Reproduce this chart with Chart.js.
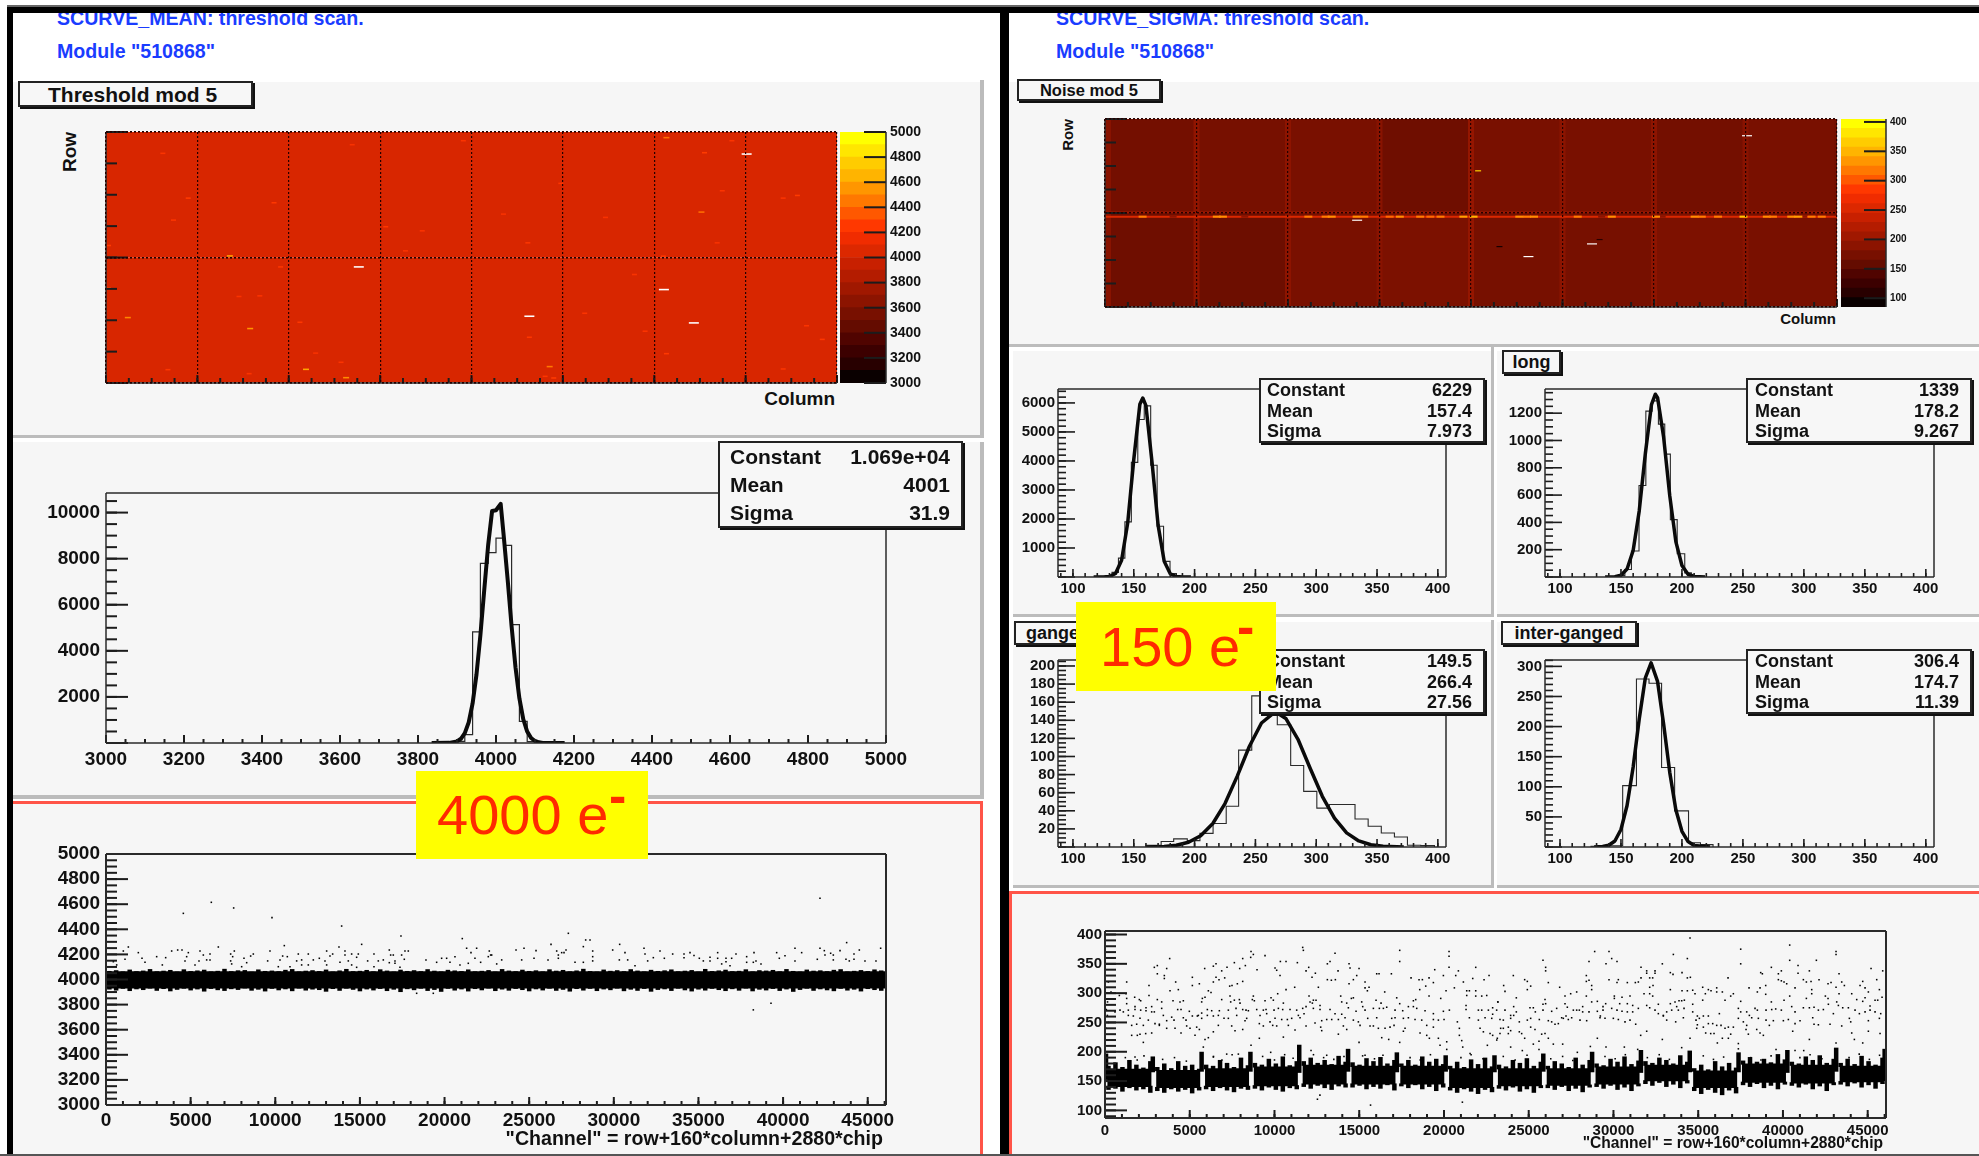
<!DOCTYPE html>
<html><head><meta charset="utf-8">
<style>
html,body{margin:0;padding:0;background:#fff;width:1979px;height:1156px;overflow:hidden;font-family:'Liberation Sans',Arial,sans-serif}
#stage{position:relative;width:1979px;height:1156px;overflow:hidden}
#stage>*{position:absolute}
.t{white-space:nowrap;line-height:1;font-weight:bold;color:#111}
</style>
<script src="https://cdn.jsdelivr.net/npm/chart.js@4/dist/chart.umd.min.js"></script>
</head><body><div id="stage"></div>
<script>
/* ---------- colour scale ---------- */
const paletteColors=['#0a0000','#280000','#3c0000','#500400','#640c00','#781000','#8c1400','#a01800','#b41c00','#c82000','#dc2800','#f02c00','#ff3800','#ff5800','#ff7800','#ff9600','#ffb400','#ffcc00','#ffe600','#ffff00'];
const thresholdRange=[3000,5000], noiseRange=[85,405];
const thresholdPaletteTicks=[3000,200,5000], noisePaletteTicks=[100,50,400];

/* ---------- threshold map ---------- */
const thresholdChipTop=[4030,4028,4031,4029,4030,4028,4030,4029];
const thresholdChipBottom=[4029,4031,4030,4028,4030,4029,4028,4030];
const thrOverCols=[126.2,49.8,109.9,83.4,115.8];
const thrOverRows=[291.9,148,119.1,85.1,76.6];
const thrHotCols=[24.4,4.3,28.4,39.4,47.3,87.4,110.4,117.3];
const thrHotRows=[162,83.4,69.4,17.4,6.8,20.9,312.8,217.9];
const thrHotVals=[4600,4500,4550,4600,4520,4450,4420,4420];
const thrWarmCols=[34.4,33.1,109.8,83.1,78.3,98.4,133.4,136.2,89.6,117.9,123.3,70.4,48.5,11.2,16.2,13.3,55.1,62.3,59.0,0.5,0.5,30.3,26.2,38.2,94.3,106.2,83.4,141.1,110.4,41.3,46.3,12.2,28.2,86.5,88.2,133.4,138.0,104.1,120.4,121.4];
const thrWarmRows=[148,229.8,161.7,178.7,215.3,211.1,235.7,239.1,254.5,293.6,308.9,308.9,303.8,292.8,235.7,207.7,199.2,194,168.5,175.3,121.3,111.1,110.3,77.4,88.9,66,58.3,55.6,37.4,38.1,26.4,17,11.9,8.5,6.4,17.9,73,138.3,178.7,245.1];
const thrWarmVals=[4230,4240,4250,4230,4200,4200,4220,4260,4230,4260,4220,4220,4200,4220,4260,4230,4240,4220,4210,4260,4260,4220,4210,4240,4220,4220,4240,4240,4250,4200,4220,4240,4220,4230,4260,4230,4220,4210,4200,4220];

/* ---------- noise map ---------- */
const noiseChipTop=[170,172,174,166,174,174,170,174];
const noiseChipBottom=[166,164,174,176,172,172,177,174];
const noiseStripeCols=[0.6,18,36,54,72,90,108,126,144];
const noiseStripeVals=[186,192,190,186,196,188,190,186,170];
const gangedRowVals=[252];
const gangedHotCols=[7.4,22,23.2,40,43.4,44.6,49.5,51,56,58,62,64,66,70.5,72.5,81.5,83,84.4,93,99.7,108.4,116,117.4,120.6,125.6,130.2,131.4,135,136.4,139,141];
const gangedHotVals=[320,330,330,320,320,330,330,320,310,330,320,310,320,340,350,330,320,330,320,330,330,330,320,320,360,330,320,330,340,320,320];
const gangedGapCols=[13.4,27.5,97.7,109.6,137.4];
const noiseHotCols=[73.4,77.6,97.3];
const noiseHotRows=[231.8,102.8,114.8];
const noiseHotVals=[370,100,110];
const noiseOverCols=[49.6,95.8,83.3,126.3];
const noiseOverRows=[147.7,107.4,85.8,291.5];

/* ---------- threshold histogram ---------- */
const thrHistEdges=[3860,3880,3900,3920,3940,3960,3980,4000,4020,4040,4060,4080,4100,4120];
const thrHistVals=[5,20,70,360,4820,7800,8260,8890,8576,5137,935,60,10,0];
const thrFitX=[3835,3880,3900,3910,3920,3930,3940,3950,3960,3970,3980,3990,4000,4012,4020,4030,4040,4050,4060,4070,4080,4090,4100,4110,4120,4176];
const thrFitY=[0,6,71,183,426,898,1718,2978,4680,6667,8607,10073,10100,10380,8953,7071,5064,3285,1933,1030,498,218,86,31,3,0];

/* ---------- noise histograms ---------- */
const allHistEdges=[126.8,132.1,137.4,142.7,148,153.3,158.6,163.9,169.2,174.5,179.8,185.1,190.4];
const allHistVals=[40,160,650,1900,3950,5430,5900,3850,1750,540,120,15,0];
const allFitX=[117,125,130,135,140,145,150,155,157.4,160,165,170,175,180,185,190,197];
const allFitY=[0,2,17,120,576,1859,4049,5953,6170,5905,3956,1788,545,112,16,2,0];

const longHistEdges=[147.6,153.2,158.6,164.8,170.4,175.6,180.7,185.9,190.5,196.1,202.3,207.7,213];
const longHistVals=[10,55,190,670,1215,1290,1120,900,420,170,30,6,0];
const longFitX=[137,145,150,155,160,165,170,175,178.2,180,185,190,195,200,205,210,219];
const longFitY=[0,2,13,59,194,486,905,1262,1339,1314,1023,596,259,84,20,4,0];

const gangedHistEdges=[159.6,172.5,182.8,194,204.4,215.2,226,236.2,247,257.8,268,279,289.7,300.5,310.8,321.6,331.9,342.7,353.5,364.3,375,385.9,397.2];
const gangedHistVals=[2,6,9,7,15,26,45,107,167,192,135,90,61.5,43,47,47,31,23,15.5,11,2,1.5,0];
const gangedFitX=[160,175,185,195,205,215,225,235,245,255,266.4,275,285,295,305,315,325,335,345,355,372];
const gangedFitY=[0,0.6,1.9,5.2,12.5,26,48,78,111,137,149.5,142,119,87,56,32,15.6,6.7,2.5,0.9,0];

const interHistEdges=[125,140.6,151.4,162.7,173,183.3,194,205.4,215.2,225.5];
const interHistVals=[1,2,102,279,272,132,60,7,4,0];
const interFitX=[128,135,140,145,150,155,160,165,170,174.7,180,185,190,195,200,205,210,223];
const interFitY=[0,0.7,3,10,29,69,133,213,281,306,275,204,124,62,26,9,2.5,0];

/* ---------- threshold vs channel ---------- */
const thrBandLow=[3928], thrBandHigh=[4066];
const thrTopEdge=[4068,4074,4064,4079,4066,4071,4083,4065,4070,4076,4063,4081,4067,4072,4078,4064,4069,4085,4066,4073,4075,4062,4080,4068,4071,4066,4077,4083,4064,4070,4074,4067,4079,4063,4072,4084,4066,4069,4076,4065,4081,4071,4063,4078,4068,4074,4066,4082,4070,4064,4077,4072,4067,4080,4065,4069,4075,4063,4083,4071,4066,4078,4068,4073,4064,4081,4070,4076,4065,4072,4085,4067,4063,4079,4069,4074,4066,4082,4071,4064,4077,4068,4073,4080,4065,4070,4075,4063,4084,4067,4072,4078,4066,4069,4081,4064,4074,4071,4076,4065,4083,4068,4063,4079,4070,4073,4066,4077,4082,4064,4069,4075,4067,4080,4072];
const thrLowEdge=[3920,3912,3926,3908,3922,3916,3928,3910,3924,3906,3918,3927,3913,3921,3904,3925,3915,3909,3923,3917,3929,3911,3919,3905,3926,3914,3922,3907,3928,3912,3920,3916,3903,3924,3910,3927,3918,3906,3921,3913,3925,3908,3919,3900,3923,3915,3927,3909,3917,3902,3926,3912,3921,3905,3924,3914,3928,3908,3920,3911,3925,3916,3906,3922,3913,3927,3910,3918,3904,3924,3912,3926,3908,3921,3915,3928,3907,3919,3910,3925,3903,3917,3922,3909,3927,3914,3905,3920,3912,3926,3916,3908,3923,3911,3928,3906,3919,3913,3925,3909,3921,3902,3917,3927,3910,3922,3914,3907,3926,3912,3919,3905,3924,3916,3910];
const thrOutliers=[[4569,4527],[6222,4615],[7542,4570],[9806,4493],[13921,4426],[17426,4347],[21049,4326],[15103,4280],[10534,4270],[6636,4259],[13764,4259],[1320,4259],[3879,4227],[4234,4235],[4490,4235],[5553,4227],[7581,4227],[9688,4227],[13035,4227],[14118,4227],[16737,4235],[17662,4227],[17859,4227],[21305,4249],[21562,4214],[21896,4249],[22644,4227],[1024,4227],[1910,4214],[4864,4214],[2993,4182],[3525,4174],[2127,4169],[4765,4182],[5750,4195],[6144,4203],[7364,4203],[7483,4182],[8703,4203],[8546,4187],[10436,4187],[10712,4182],[11361,4203],[11952,4203],[13390,4203],[13232,4187],[14906,4203],[14512,4203],[14118,4195],[15831,4203],[16973,4195],[16816,4195],[17465,4195],[19828,4169],[20124,4169],[20616,4182],[22585,4182],[22722,4195],[1123,4161],[2304,4137],[4667,4148],[5494,4148],[5947,4156],[6144,4156],[7364,4148],[8152,4169],[8310,4134],[9550,4148],[10279,4156],[11263,4148],[11558,4156],[12248,4156],[12602,4169],[12937,4148],[13823,4137],[14315,4148],[14807,4177],[15457,4148],[16087,4148],[16383,4156],[17072,4148],[17623,4161],[18903,4156],[19533,4137],[20321,4137],[20911,4116],[21403,4129],[21797,4169],[22132,4137],[434,4142],[631,4116],[3328,4116],[5258,4116],[7424,4124],[8014,4102],[10180,4102],[10869,4102],[11558,4116],[11952,4116],[13035,4116],[14512,4116],[14807,4097],[15831,4102],[16737,4134],[17072,4129],[17367,4097],[18352,3890],[19336,3890],
[42180,4647],[27314,4368],[28338,4315],[28594,4315],[26290,4280],[30346,4280],[43755,4294],[24695,4249],[28200,4262],[31784,4249],[40703,4249],[42180,4249],[45764,4249],[24223,4235],[25404,4230],[27176,4235],[28752,4227],[29933,4235],[30660,4214],[32729,4227],[33477,4203],[34501,4214],[34147,4203],[26625,4227],[26723,4195],[26723,4169],[26920,4214],[27058,4214],[42436,4230],[42810,4209],[43363,4230],[44504,4235],[39620,4214],[38282,4214],[37218,4203],[41097,4214],[22785,4195],[31843,4203],[34737,4192],[34147,4174],[32335,4174],[32985,4169],[25286,4169],[24557,4156],[23376,4156],[28752,4182],[28752,4148],[30327,4156],[30819,4156],[32000,4148],[35052,4169],[35683,4177],[36135,4214],[36135,4169],[36627,4169],[36962,4169],[37848,4182],[39778,4169],[40113,4190],[42022,4161],[42475,4195],[42968,4195],[42968,4156],[43715,4161],[43912,4148],[44189,4203],[44189,4161],[44838,4148],[45488,4148],[40703,4148],[35289,4148],[35683,4148],[36627,4142],[37848,4137],[38242,4137],[38399,4148],[38695,4124],[23081,4124],[26113,4156],[27708,4137],[28200,4137],[31252,4110],[36372,4124],[36864,4110],[39286,3810],[38242,3758]];

/* ---------- noise vs channel ---------- */
const noiseBandHigh=[171,169,172,175,178,176,176,172,172,172,175,178,168,180,178,176];
const noiseBandLow=[140,138,140,141,144,144,144,138,141,142,144,149.5,138,147,146,148];
const noiseSpikeChannels=[60,2820,5700,8580,11460,14340,17220,20100,22980,25860,28740,31620,34500,37380,40260,43140,46000];
const noiseSpikeHigh=[197,192,200,200,212,205,199,194,194,197,200,203,202,199,203,207,205];
const noiseSpikeLow=[152,165,166,166,164,166,165,166,165,166,165,164,165,165,164,166,150];
const noiseTopEdge=[176,182,174,186,178,173,184,174,180,172,184,176,178,171,178,176,186,181,174,190,177,181,178,188,180,192,177,184,184,190,181,186,179,193,183,182,178,189,184,191,180,186,180,186,178,192,183,188,179,176,183,174,187,179,190,175,178,175,186,181,189,176,183,176,184,180,174,190,178,186,180,177,188,183,192,179,185,184,181,190,186,180,194,183,172,178,170,184,175,181,173,185,191,183,188,182,196,187,183,180,192,186,194,181,188,181,188,179,193,184,178,190];
const noiseLowEdge=[135,137,132,138,134,136,130,133,130,136,132,135,129,134,136,133,138,134,131,137,135,137,134,139,135,132,138,136,140,137,142,138,135,141,139,139,142,136,140,137,143,134,141,138,143,136,140,133,139,134,130,136,132,128,135,131,137,134,139,132,136,130,138,138,135,140,133,137,131,139,140,137,142,135,139,133,141,145,142,147,140,144,138,146,133,128,135,130,126,134,129,143,140,145,138,142,136,144,142,139,144,136,141,133,143,144,141,146,139,143,137,145];
const noiseOutliers=[[11664,378],[11704,373],[8616,371],[8753,366],[8596,361],[9442,364],[13572,368],[17388,373],[17388,354],[20299,371],[20299,363],[20299,344],[21873,344],[20850,338],[19454,340],[3816,359],[3088,347],[2911,344],[3639,342],[3088,333],[3501,330],[3501,325],[5881,342],[6393,346],[6550,350],[7199,344],[7632,352],[8124,359],[8281,347],[7947,342],[8970,340],[10032,343],[10130,339],[10347,354],[10681,354],[11350,352],[12019,344],[11862,338],[10327,330],[12412,334],[12215,327],[13277,354],[13120,350],[13750,338],[14399,350],[14458,343],[14989,342],[14851,330],[14654,323],[14399,316],[16031,333],[16169,333],[16897,333],[18057,326],[18529,323],[18726,323],[19119,326],[19965,330],[20693,330],[21145,319],[21696,325],[22365,323],[22660,330],
[1279,319],[2596,313],[5154,327],[5154,313],[5567,316],[6885,338],[6550,327],[6727,323],[6393,319],[7062,326],[8124,320],[7809,316],[7494,313],[7357,312],[4170,319],[3836,304],[4327,306],[6098,304],[6255,301],[11192,310],[10681,306],[10189,299],[12589,310],[13120,323],[13356,322],[13592,323],[15343,319],[15579,310],[15343,309],[15481,304],[16503,302],[18569,306],[18923,312],[19375,318],[20122,304],[20614,309],[21342,304],[21499,304],[21873,304],[21342,296],[21873,295],[22227,295],[22522,296],
[2596,296],[1751,293],[2026,289],[2105,287],[3088,289],[3344,285],[4013,287],[4426,285],[4622,287],[5901,293],[5704,285],[5744,291],[6885,289],[7376,295],[7632,288],[7927,289],[7966,283],[7416,285],[8753,295],[8694,289],[8812,287],[9442,287],[9796,292],[9933,288],[10524,283],[12038,295],[12294,288],[12097,285],[12451,288],[12235,283],[12687,279],[13907,295],[13966,285],[14261,283],[14536,291],[14654,292],[15146,285],[15992,288],[16287,283],[17211,292],[17388,282],[18333,289],[18195,287],[19119,295],[19808,291],[21302,279],[23172,285],[1279,291],[1279,282],[354,302],[846,296],[1239,299],[197,319],
[1377,271],[1770,277],[1770,272],[2105,271],[2419,275],[2419,270],[2754,277],[2754,268],[2911,268],[3344,274],[4288,272],[4485,272],[4976,269],[5508,262],[5704,266],[6039,272],[6295,270],[6747,270],[7278,271],[7730,274],[8124,272],[8320,271],[8458,270],[8950,272],[9343,271],[9501,272],[9973,271],[10229,274],[10484,272],[10917,272],[11310,271],[11664,274],[11862,277],[12294,274],[12687,272],[13277,272],[13572,265],[13966,264],[14359,275],[14812,269],[15205,277],[15343,271],[15835,274],[16188,274],[16425,274],[16621,276],[17113,271],[17565,270],[17900,277],[18195,277],[18392,274],[18883,270],[19375,265],[19965,269],[20319,271],[21302,272],[22030,271],[22227,271],[22620,271],
[590,268],[885,271],[1082,268],[1377,262],[1672,261],[2065,257],[2557,254],[2950,248],[3206,247],[3442,262],[3639,253],[3934,259],[4072,254],[4622,258],[4780,254],[5154,261],[5449,261],[5704,257],[6039,262],[6393,261],[6688,262],[7022,257],[7278,257],[7770,262],[8360,257],[8261,253],[9147,262],[9540,265],[9737,251],[10032,257],[10425,255],[10759,255],[11015,257],[11409,262],[11507,258],[11743,265],[12392,249],[12786,253],[13081,255],[13376,255],[13769,255],[14163,258],[14654,254],[14949,251],[15500,257],[16031,258],[16916,257],[17113,258],[17605,257],[17900,258],[18293,255],[18687,254],[19375,255],[19670,254],[20004,255],[20791,251],[21499,258],[22030,254],[22424,258],[22818,257],
[1574,245],[1869,247],[2262,245],[3206,245],[3639,240],[4131,240],[4819,244],[5016,240],[5409,242],[5567,238],[6688,245],[7475,244],[7671,236],[8124,238],[9107,248],[9343,244],[9894,245],[10130,244],[10818,245],[11212,237],[11862,244],[12726,242],[12786,236],[14064,244],[14261,238],[15048,245],[15638,244],[15835,244],[16129,240],[16523,240],[16818,242],[17054,245],[17703,240],[17605,235],[18982,245],[19375,242],[20909,240],[22129,240],[22325,234],[22719,231],[1574,228],[1908,228],[2065,230],[2400,231],[2754,232],[2262,216],[4485,232],[5311,228],[5901,221],[6098,224],[6393,234],[10524,225],[9107,223],[13769,230],[16327,224],[16739,221],[14989,216],[17388,216],[18588,232],[18982,228],[19139,223],[19670,223],[19768,211],[20909,228],[21047,219],[21106,208],[22561,211],[23113,220],[20162,217],[5802,208],[8616,211],[12156,202],[9776,199],[13081,194],[15343,194],[20162,204],[6393,191],[7180,196],[7868,196],[1770,191],[21539,197],
[34517,394],[40398,382],[37507,375],[43132,371],[43132,366],[28891,371],[29737,371],[33534,366],[29895,359],[34360,359],[25842,356],[30209,354],[28557,354],[40398,356],[41972,356],[37507,350],[32884,350],[29560,350],[25998,344],[25998,338],[31625,344],[40890,347],[45198,342],[31960,338],[31960,334],[32452,338],[32452,334],[33356,335],[33514,332],[34045,335],[39316,344],[41559,338],[45886,338],[38687,335],[38785,333],[39906,338],[39730,333],[40890,334],[24092,330],[28400,330],[34537,327],[34360,326],[36760,326],[32314,326],[32137,326],[31625,326],[31468,319],[31291,318],[30819,318],[29737,323],[30288,323],[30209,318],[28557,322],[28400,320],[24761,323],[24918,320],[26157,318],[39730,323],[39906,321],[40064,319],[40221,316],[41205,323],[41382,319],[41657,320],[42129,323],[43309,333],[42837,318],[42660,316],[43467,319],[43624,313],[44706,320],[44549,313],[45532,323],
[23521,313],[23600,303],[25115,312],[24918,306],[26826,310],[28714,313],[28714,306],[32334,313],[32137,310],[33356,306],[34045,304],[34360,304],[34675,305],[34812,299],[35264,310],[35422,299],[35599,306],[35756,304],[36091,309],[36091,302],[36425,302],[37999,309],[38490,302],[38982,313],[38648,309],[38982,298],[40713,309],[41697,306],[41697,299],[43132,310],[43309,299],[44057,299],[44844,309],[45040,302],[45690,306],[45847,293],[27141,295],[27475,299],[27829,302],[28400,295],[30052,295],[30052,291],[30504,293],[30976,295],[31803,299],[32137,299],[32314,295],[35264,288],[36582,288],[36917,295],[37074,299],[37507,286],[39316,285],[40064,288],[40398,295],[41382,291],[42503,295],[42660,291],[43172,285],[44352,289],[44844,292],[44706,286],[45434,288],[45591,288],[45139,278],[24269,292],[23187,285],[24112,277],[25961,289],[25842,281],[25998,282],[27141,282],[27278,276],[28714,285],[29049,286],[29383,277],[29540,282],[30367,282],[30819,282],[31134,279],[31960,279],[32648,281],[33356,282],[33632,285],[33868,287],[34025,287],[34183,288],[34675,281],[33730,277],
[22872,275],[23108,271],[23600,271],[22872,264],[23934,262],[24112,262],[24269,268],[25075,275],[25272,275],[25390,268],[25842,271],[26354,269],[26649,274],[26944,258],[27200,261],[27633,271],[27829,271],[27987,271],[28183,277],[28183,268],[28557,268],[29049,269],[29383,271],[29226,261],[29895,274],[30209,271],[30504,269],[30819,268],[31134,268],[31468,274],[32137,275],[32452,271],[32648,265],[32943,262],[33140,268],[33435,271],[33828,271],[34163,274],[34675,268],[34950,261],[35304,261],[35599,261],[36248,265],[37369,274],[37507,268],[37861,268],[38018,262],[38352,274],[38490,271],[39002,271],[39336,272],[39572,273],[39906,271],[40516,277],[40713,268],[41205,275],[41559,275],[41834,276],[42090,271],[42385,272],[42680,281],[42975,265],[43270,279],[43526,275],[43860,275],[44254,271],[44510,265],[44844,268],[45139,271],[45434,268],[45768,265],
[23305,255],[23502,254],[23934,257],[24446,251],[24918,254],[25115,257],[25626,255],[26157,253],[26354,251],[26551,247],[26747,248],[27042,257],[27337,255],[27534,258],[28026,254],[28419,253],[29206,258],[29501,257],[29993,257],[30288,255],[30681,251],[30976,254],[31311,247],[32943,261],[33140,254],[33671,251],[34124,258],[34871,254],[35068,257],[34950,246],[35304,242],[35599,248],[35855,248],[36091,245],[36346,245],[36582,240],[36779,242],[37074,242],[37369,257],[37664,251],[37861,245],[38156,258],[38549,257],[39002,254],[39198,245],[39434,253],[40025,253],[40319,255],[40713,248],[41008,253],[41756,258],[41834,247],[42090,246],[42778,247],[43467,244],[43919,257],[43998,251],[45040,253],[45690,257],
[23344,240],[23502,240],[23797,242],[23934,236],[23797,231],[23305,231],[22872,228],[23148,223],[24446,234],[24584,231],[24761,223],[25115,242],[25370,238],[25764,230],[25961,231],[25606,218],[25272,213],[26157,223],[26452,213],[27003,213],[29049,223],[31960,235],[31606,228],[32884,221],[34911,240],[35441,232],[35737,231],[35933,231],[36130,215],[36425,223],[36779,223],[36917,230],[37822,238],[37959,230],[38451,238],[38648,232],[38844,228],[40575,235],[41559,221],[44057,232],[45040,235],[44214,221],[45729,231],[44706,215],[23934,208],[25606,204],[29560,208],[30642,208],[34517,223],[43132,215],[37369,214],[37369,205],[39592,204],[41225,202],[40713,202],[24623,202],[27869,199],[28636,209],[31429,204],[34025,207],
[1200,190],[1900,186],[2300,193],[3400,187],[4100,190],[4800,184],[6400,192],[6900,186],[7500,195],[8100,188],[9300,192],[10000,186],[10600,195],[11100,189],[12300,195],[12900,190],[13500,187],[14100,192],[15200,193],[15900,188],[16400,194],[18000,190],[18600,186],[19200,195],[21000,190],[21600,195],[22300,188],[23500,192],[24200,186],[24900,194],[26300,188],[27000,192],[27600,185],[29500,192],[30100,188],[30700,195],[32000,190],[32700,195],[33300,187],[35300,193],[35900,187],[36500,191],[38100,190],[38700,186],[39300,193],[41000,190],[41600,195],[42300,188],[43900,190],[44500,196],[45100,187],[45700,194],
[100,300],[150,285],[80,272],[140,262],[200,250],[60,240],[12534,119],[12681,126],[21086,114],[15667,109]];

/* ---------- page furniture text ---------- */
const statLabels=['Constant','Mean','Sigma'];
const thrStats=['1.069e+04','4001','31.9'];
const allStats=['6229','157.4','7.973'];
const longStats=['1339','178.2','9.267'];
const gangedStats=['149.5','266.4','27.56'];
const interStats=['306.4','174.7','11.39'];

/* ---------- helpers ---------- */
const stage=document.getElementById('stage');
const FONT="'Liberation Sans',Arial,sans-serif";
function box(x,y,w,h,style,z){const d=document.createElement('div');d.style.cssText=`left:${x}px;top:${y}px;width:${w}px;height:${h}px;${style||''}z-index:${z||0};`;stage.appendChild(d);return d;}
function text(s,x,y,size,opt={}){const d=document.createElement('div');d.className='t';d.textContent=s;
  const tx=opt.align==='right'?'-100%':opt.align==='center'?'-50%':'0';
  d.style.cssText=`left:${x}px;top:${y}px;font-size:${size}px;transform:translate(${tx},-50%)${opt.rot?' rotate(-90deg)':''};z-index:${opt.z||4};color:${opt.color||'#111'};font-weight:${opt.weight||'bold'};`;
  stage.appendChild(d);return d;}
function button(x,y,w,h,s,size,z){box(x,y,w,h,'box-sizing:border-box;background:#f7f7f7;border:2px solid #222;box-shadow:2px 2px 0 #111;',z||3);
  text(s,x+w/2,y+h/2,size,{align:'center',z:(z||3)+1});}
function stats(x,y,w,h,labels,vals,rows,size,lx,rx){box(x,y,w,h,'box-sizing:border-box;background:#f7f7f7;border:2px solid #222;box-shadow:2px 2px 0 #111;',3);
  labels.forEach((l,i)=>{text(l,lx,rows[i],size);text(vals[i],rx,rows[i],size,{align:'right'});});}
function multiples(step,min,max){const a=[];for(let v=Math.ceil(min/step-1e-9)*step;v<=max+1e-9;v+=step)a.push(v);return a;}
function stepTicks(step){return s=>{s.ticks=multiples(step,s.min,s.max).map(v=>({value:v}));};}
function fitted(side,size){return s=>{if(side==='h')s.height=size;else s.width=size;s.paddingTop=0;s.paddingBottom=0;s.paddingLeft=0;s.paddingRight=0;};}
function decor(d){return {id:'decor',afterDatasetsDraw(chart){const {ctx,chartArea:a,scales:{x,y}}=chart;ctx.save();ctx.strokeStyle=d.color||'#1c1c1c';ctx.lineWidth=d.tickWidth||2;
  const seg=(x1,y1,x2,y2)=>{ctx.beginPath();ctx.moveTo(x1,y1);ctx.lineTo(x2,y2);ctx.stroke();};
  if(d.xMin)multiples(d.xMin,x.min,x.max).forEach(v=>{const p=x.getPixelForValue(v);seg(p,a.bottom,p,a.bottom-d.xMinLen);});
  if(d.xMaj)multiples(d.xMaj,x.min,x.max).forEach(v=>{const p=x.getPixelForValue(v);seg(p,a.bottom,p,a.bottom-d.xMajLen);});
  if(d.yMin)multiples(d.yMin,y.min,y.max).forEach(v=>{const p=y.getPixelForValue(v);seg(a.left,p,a.left+d.yMinLen,p);});
  if(d.yMaj)multiples(d.yMaj,y.min,y.max).forEach(v=>{const p=y.getPixelForValue(v);seg(a.left,p,a.left+d.yMajLen,p);});
  if(d.palMaj)multiples(d.palMaj,y.min,y.max).forEach(v=>{const p=y.getPixelForValue(v);seg(a.right,p,a.right-d.palLen,p);});
  ctx.lineWidth=d.frameWidth||1.5;ctx.strokeStyle='#2a2a2a';
  const s=d.sides||'lrtb';
  if(s.includes('l'))seg(a.left,a.top,a.left,a.bottom);
  if(s.includes('r'))seg(a.right,a.top,a.right,a.bottom);
  if(s.includes('t'))seg(a.left,a.top,a.right,a.top);
  if(s.includes('b'))seg(a.left,a.bottom,a.right,a.bottom);
  ctx.restore();}};}
function makeChart(p){const [l,t,r,b]=p.plot,[ml,mt,mr,mb]=p.margin;const c=document.createElement('canvas');const W=r-l+ml+mr,H=b-t+mt+mb;
  c.width=W;c.height=H;c.style.cssText=`left:${l-ml}px;top:${t-mt}px;width:${W}px;height:${H}px;z-index:1;`;stage.appendChild(c);
  const tick=(size,pad,cb)=>({font:{family:FONT,size,weight:'bold'},color:'#111',padding:pad,autoSkip:false,maxRotation:0,minRotation:0,includeBounds:false,callback:cb||(v=>String(v))});
  const sx=Object.assign({type:'linear',offset:false,grid:{display:false,drawTicks:false},border:{display:false},afterFit:fitted('h',mb)},p.x);
  const sy=Object.assign({type:'linear',grid:{display:false,drawTicks:false},border:{display:false},afterFit:fitted('w',p.y.position==='right'?mr:ml)},p.y);
  if(p.xTick){sx.ticks=tick(p.xTick.size,p.xTick.pad);sx.afterBuildTicks=stepTicks(p.xTick.step);}
  if(p.yTick){sy.ticks=tick(p.yTick.size,p.yTick.pad,v=>v===0?'':String(v));sy.afterBuildTicks=stepTicks(p.yTick.step);}
  return new Chart(c,{type:'bar',data:{datasets:p.datasets},plugins:[decor(p.decor)],options:{responsive:false,animation:false,devicePixelRatio:1,
    layout:{autoPadding:false,padding:p.y.position==='right'?{left:ml,top:mt,right:0,bottom:0}:{left:0,top:mt,right:mr,bottom:0}},
    plugins:{legend:{display:false},tooltip:{enabled:false}},scales:{x:sx,y:sy}}});}

function hexRgb(h){return [1,3,5].map(i=>parseInt(h.substr(i,2),16));}
function heatColor(v,range){const t=Math.max(0,Math.min(19,(v-range[0])/(range[1]-range[0])*20-0.5));const i=Math.floor(t),f=t-i;
  const a=hexRgb(paletteColors[i]),b=hexRgb(paletteColors[Math.min(19,i+1)]);return `rgb(${a.map((c,k)=>Math.round(c+(b[k]-c)*f)).join(',')})`;}
const xy=(xs,ys)=>xs.map((v,i)=>({x:v,y:ys[i]}));
const stepLine=(xs,ys,w)=>({type:'line',data:xy(xs,ys),stepped:true,borderColor:'#2a2a2a',borderWidth:w||1.2,pointRadius:0,tension:0,fill:false});
const fitLine=(xs,ys,w)=>({type:'line',data:xy(xs,ys),borderColor:'#0a0a0a',borderWidth:w||4,pointRadius:0,tension:0,fill:false,borderJoinStyle:'round'});
const bars=(pts,thick,color)=>({type:'bar',grouped:false,data:pts,barThickness:thick,backgroundColor:color,borderWidth:0,inflateAmount:0});
const pointsDs=(pairs,r)=>({type:'scatter',showLine:false,data:pairs.map(p=>({x:p[0],y:p[1]})),pointStyle:'rect',pointRadius:r,pointBackgroundColor:'#000',pointBorderWidth:0});

/* ---------- panels and frames ---------- */
const PANEL='background:#f6f6f6;', BEV='background:#bcbcbc;', RED='background:#ff5448;';
box(13,82,968,353,PANEL); box(13,435,968,3,BEV); box(980,80,4,358,BEV);
box(13,442,968,353,PANEL); box(13,795,968,4,BEV); box(980,442,4,357,BEV);
box(13,802,969,354,PANEL); box(13,801,969,3,RED); box(980,801,3,355,RED);
box(1009,82,970,262,PANEL); box(1009,344,970,3,BEV);
box(1013,351,478,263,PANEL); box(1013,614,478,3,BEV); box(1491,344,3,273,BEV);
box(1497,351,482,263,PANEL); box(1497,614,482,3,BEV);
box(1013,622,478,263,PANEL); box(1013,885,478,3,BEV); box(1491,620,3,268,BEV);
box(1497,622,482,263,PANEL); box(1497,885,482,3,BEV);
box(1009,892,970,264,PANEL); box(1012,891,967,3,RED); box(1009,891,3,265,RED);
box(7,7,1972,6,'background:#000;',6); box(7,5,1972,2,'background:#666;',6);
box(7,7,6,1149,'background:#000;',6);
box(1000,7,9,1149,'background:#000;',6);
box(0,1154,1979,2,'background:#555;',6);

/* ---------- titles ---------- */
text('SCURVE_MEAN: threshold scan.',57,19,19.6,{color:'#1a3cff',z:2});
text('Module "510868"',57,52,19.6,{color:'#1a3cff'});
text('SCURVE_SIGMA: threshold scan.',1056,19,19.6,{color:'#1a3cff',z:2});
text('Module "510868"',1056,52,19.6,{color:'#1a3cff'});
box(18,81,235,26,'box-sizing:border-box;background:#f7f7f7;border:2px solid #222;box-shadow:2px 2px 0 #111;',3);
text('Threshold mod 5',48,94,21);
button(1017,79,144,22,'Noise mod 5',16.5);
button(1502,350,59,24,'long',18);
button(1014,621,140,24,'',18);
text('ganged',1026,633,18);
button(1501,621,136,24,'inter-ganged',18);

/* ---------- threshold map ---------- */
const thrBase=[].concat(thresholdChipTop.map((v,i)=>({x:9+18*i,y:[160,320],v})),thresholdChipBottom.map((v,i)=>({x:9+18*i,y:[0,160],v})));
const spots=(cols,rows)=>cols.map((c,i)=>({x:c,y:[rows[i]-1,rows[i]+1]}));
const dottedGrid=(step,width)=>({afterBuildTicks:stepTicks(step),ticks:{display:false},grid:{display:true,offset:false,drawTicks:false,color:'#240000',lineWidth:width,z:1},border:{display:false,dash:[2,2]}});
makeChart({plot:[106,132,837,383],margin:[2,2,2,2],
  x:Object.assign({min:0,max:144},dottedGrid(18,1.2)),
  y:Object.assign({min:0,max:320},dottedGrid(160,1.6)),
  datasets:[
    bars(spots(thrOverCols,thrOverRows),10,'#ffffff'),
    bars(spots(thrHotCols,thrHotRows),6,thrHotVals.map(v=>heatColor(v,thresholdRange))),
    bars(spots(thrWarmCols,thrWarmRows),5,thrWarmVals.map(v=>heatColor(v,thresholdRange))),
    bars(thrBase,92,thrBase.map(c=>heatColor(c.v,thresholdRange)))],
  decor:{xMaj:18,xMajLen:8,xMin:4.5,xMinLen:5,yMaj:160,yMajLen:22,yMin:40,yMinLen:11,sides:'lb'}});
function palette(plotRect,range,step,size){
  const w=(range[1]-range[0])/20;
  const ds=paletteColors.map((c,i)=>({type:'bar',grouped:false,data:[{x:'p',y:[range[0]+i*w,range[0]+(i+1)*w]}],backgroundColor:c,barPercentage:1,categoryPercentage:1,borderWidth:0}));
  makeChart({plot:plotRect,margin:[2,8,40,8],x:{type:'category',labels:['p'],offset:true,ticks:{display:false}},
    y:{min:range[0],max:range[1],position:'right',afterBuildTicks:stepTicks(step),ticks:{font:{family:FONT,size,weight:'bold'},color:'#111',padding:4,autoSkip:false,callback:v=>String(v)}},
    datasets:ds,decor:{palMaj:step,palLen:22,sides:'r'}});
}
palette([840,132,886,383],thresholdRange,thresholdPaletteTicks[1],14);
text('Row',69,152,19,{rot:true,align:'center'});
text('Column',835,398,19,{align:'right'});

/* ---------- noise map ---------- */
const nBase=[].concat(noiseChipTop.map((v,i)=>({x:9+18*i,y:[160,320],v})),noiseChipBottom.map((v,i)=>({x:9+18*i,y:[0,160],v})));
const stripes=noiseStripeCols.map((c,i)=>({x:c,y:[0,320],v:noiseStripeVals[i]}));
const nFull=gangedRowVals.map(v=>({x:72,y:[152,155.5],v}));
const nUpper=[{x:72,y:[159.5,162.5],v:205}];
const nHot=gangedHotCols.map((c,i)=>({x:c,y:[152,155.5],v:gangedHotVals[i]}));
const nGap=gangedGapCols.map(c=>({x:c,y:[152,155.5],v:190}));
makeChart({plot:[1105,119,1837,307],margin:[2,2,2,2],
  x:Object.assign({min:0,max:144},dottedGrid(18,1.2)),
  y:Object.assign({min:0,max:320},dottedGrid(160,1.4)),
  datasets:[
    bars(spots(noiseOverCols,noiseOverRows),10,'#ffffff'),
    bars(spots(noiseHotCols,noiseHotRows),6,noiseHotVals.map(v=>heatColor(v,noiseRange))),
    bars(nHot,8,nHot.map(c=>heatColor(c.v,noiseRange))),
    bars(nGap,7,nGap.map(c=>heatColor(c.v,noiseRange))),
    bars(nFull,732,nFull.map(c=>heatColor(c.v,noiseRange))),
    bars(nUpper,732,nUpper.map(c=>heatColor(c.v,noiseRange))),
    bars(stripes,6,stripes.map(c=>heatColor(c.v,noiseRange))),
    bars(nBase,92,nBase.map(c=>heatColor(c.v,noiseRange)))],
  decor:{xMaj:18,xMajLen:8,xMin:4.5,xMinLen:5,yMaj:160,yMajLen:22,yMin:40,yMinLen:11,sides:'lb'}});
palette([1841,119,1886,307],noiseRange,noisePaletteTicks[1],10);
text('Row',1067,135,15,{rot:true,align:'center'});
text('Column',1836,318,15,{align:'right'});

/* ---------- threshold histogram ---------- */
makeChart({plot:[106,493,886,743],margin:[80,3,30,26],x:{min:3000,max:5000},y:{min:0,max:10850},
  xTick:{size:19,pad:5,step:200},yTick:{size:19,pad:6,step:2000},
  datasets:[fitLine(thrFitX,thrFitY,4),stepLine(thrHistEdges,thrHistVals,1.2)],
  decor:{xMaj:200,xMajLen:8,xMin:50,xMinLen:4,yMaj:2000,yMajLen:22,yMin:500,yMinLen:11}});
stats(718,441,245,87,statLabels,thrStats,[456,484,512],21,730,950);

/* ---------- threshold vs channel ---------- */
const thrTop=thrTopEdge.map((v,i)=>({x:400*i+200,y:[4050,v]}));
const thrLow=thrLowEdge.map((v,i)=>({x:400*i+200,y:[v,3940]}));
makeChart({plot:[106,854,886,1105],margin:[80,12,30,26],x:{min:0,max:46080},y:{min:3000,max:5000},
  xTick:{size:19,pad:4,step:5000},yTick:{size:19,pad:6,step:200},
  datasets:[pointsDs(thrOutliers,1.1),bars(thrTop,4.5,'#000'),bars(thrLow,4.5,'#000'),
    bars([{x:23040,y:[thrBandLow[0],thrBandHigh[0]]}],780,'#000')],
  decor:{xMaj:5000,xMajLen:8,xMin:1000,xMinLen:4,yMaj:200,yMajLen:22,yMin:50,yMinLen:11,frameWidth:2}});
text('"Channel" = row+160*column+2880*chip',883,1139,19.6,{align:'right'});

/* ---------- noise histograms ---------- */
const histX={min:87.7,max:406.7};
function noiseHist(plot,yMax,yStep,yMinor,hx,hy,fx,fy){makeChart({plot,margin:[45,3,12,22],x:histX,y:{min:0,max:yMax},
  xTick:{size:15,pad:3,step:50},yTick:{size:15,pad:3,step:yStep},
  datasets:[fitLine(fx,fy,3.5),stepLine(hx,hy,1.1)],
  decor:{xMaj:50,xMajLen:8,xMin:10,xMinLen:4,yMaj:yStep,yMajLen:17,yMin:yMinor,yMinLen:8,tickWidth:1.6}});}
noiseHist([1058,389,1446,577],6480,1000,200,allHistEdges,allHistVals,allFitX,allFitY);
noiseHist([1545,389,1934,577],1377,200,50,longHistEdges,longHistVals,longFitX,longFitY);
noiseHist([1058,660,1446,847],206.6,20,5,gangedHistEdges,gangedHistVals,gangedFitX,gangedFitY);
noiseHist([1545,660,1934,847],310.6,50,10,interHistEdges,interHistVals,interFitX,interFitY);
stats(1259,378,226,65,statLabels,allStats,[390,411,431],18,1267,1472);
stats(1746,378,226,65,statLabels,longStats,[390,411,431],18,1755,1959);
stats(1259,649,226,65,statLabels,gangedStats,[661,682,702],18,1267,1472);
stats(1746,649,226,65,statLabels,interStats,[661,682,702],18,1755,1959);

/* ---------- noise vs channel ---------- */
const noiseBand=noiseBandHigh.map((h,i)=>({x:1440+2880*i,y:[noiseBandLow[i],h]}));
const noiseSpike=noiseSpikeChannels.map((c,i)=>({x:c,y:[noiseSpikeLow[i],noiseSpikeHigh[i]]}));
const noiseTop=noiseTopEdge.map((v,i)=>({x:(i+0.5)*2880/7,y:[noiseBandHigh[Math.floor(i/7)]-2,v]}));
const noiseLow=noiseLowEdge.map((v,i)=>({x:(i+0.5)*2880/7,y:[v,noiseBandLow[Math.floor(i/7)]+2]}));
makeChart({plot:[1105,931,1886,1118],margin:[50,8,20,24],x:{min:0,max:46080},y:{min:87,max:406},
  xTick:{size:15,pad:4,step:5000},yTick:{size:15,pad:3,step:50},
  datasets:[pointsDs(noiseOutliers,1.1),bars(noiseSpike,4.5,'#000'),bars(noiseTop,4.5,'#000'),bars(noiseLow,4.5,'#000'),bars(noiseBand,44,'#000')],
  decor:{xMaj:5000,xMajLen:8,xMin:1000,xMinLen:4,yMaj:50,yMajLen:22,yMin:10,yMinLen:11,frameWidth:2}});
text('"Channel" = row+160*column+2880*chip',1883,1143,15.6,{align:'right'});

/* ---------- yellow notes ---------- */
box(416,771,232,88,'background:#ffff00;',5);
text('4000 e',437,815,56,{color:'#ff2a00',weight:'normal',z:5});
text('-',609,795,52,{color:'#ff2a00',z:5});
box(1076,602,200,89,'background:#ffff00;',5);
text('150 e',1100,647,56,{color:'#ff2a00',weight:'normal',z:5});
text('-',1237,626,52,{color:'#ff2a00',z:5});
</script>
</body></html>
